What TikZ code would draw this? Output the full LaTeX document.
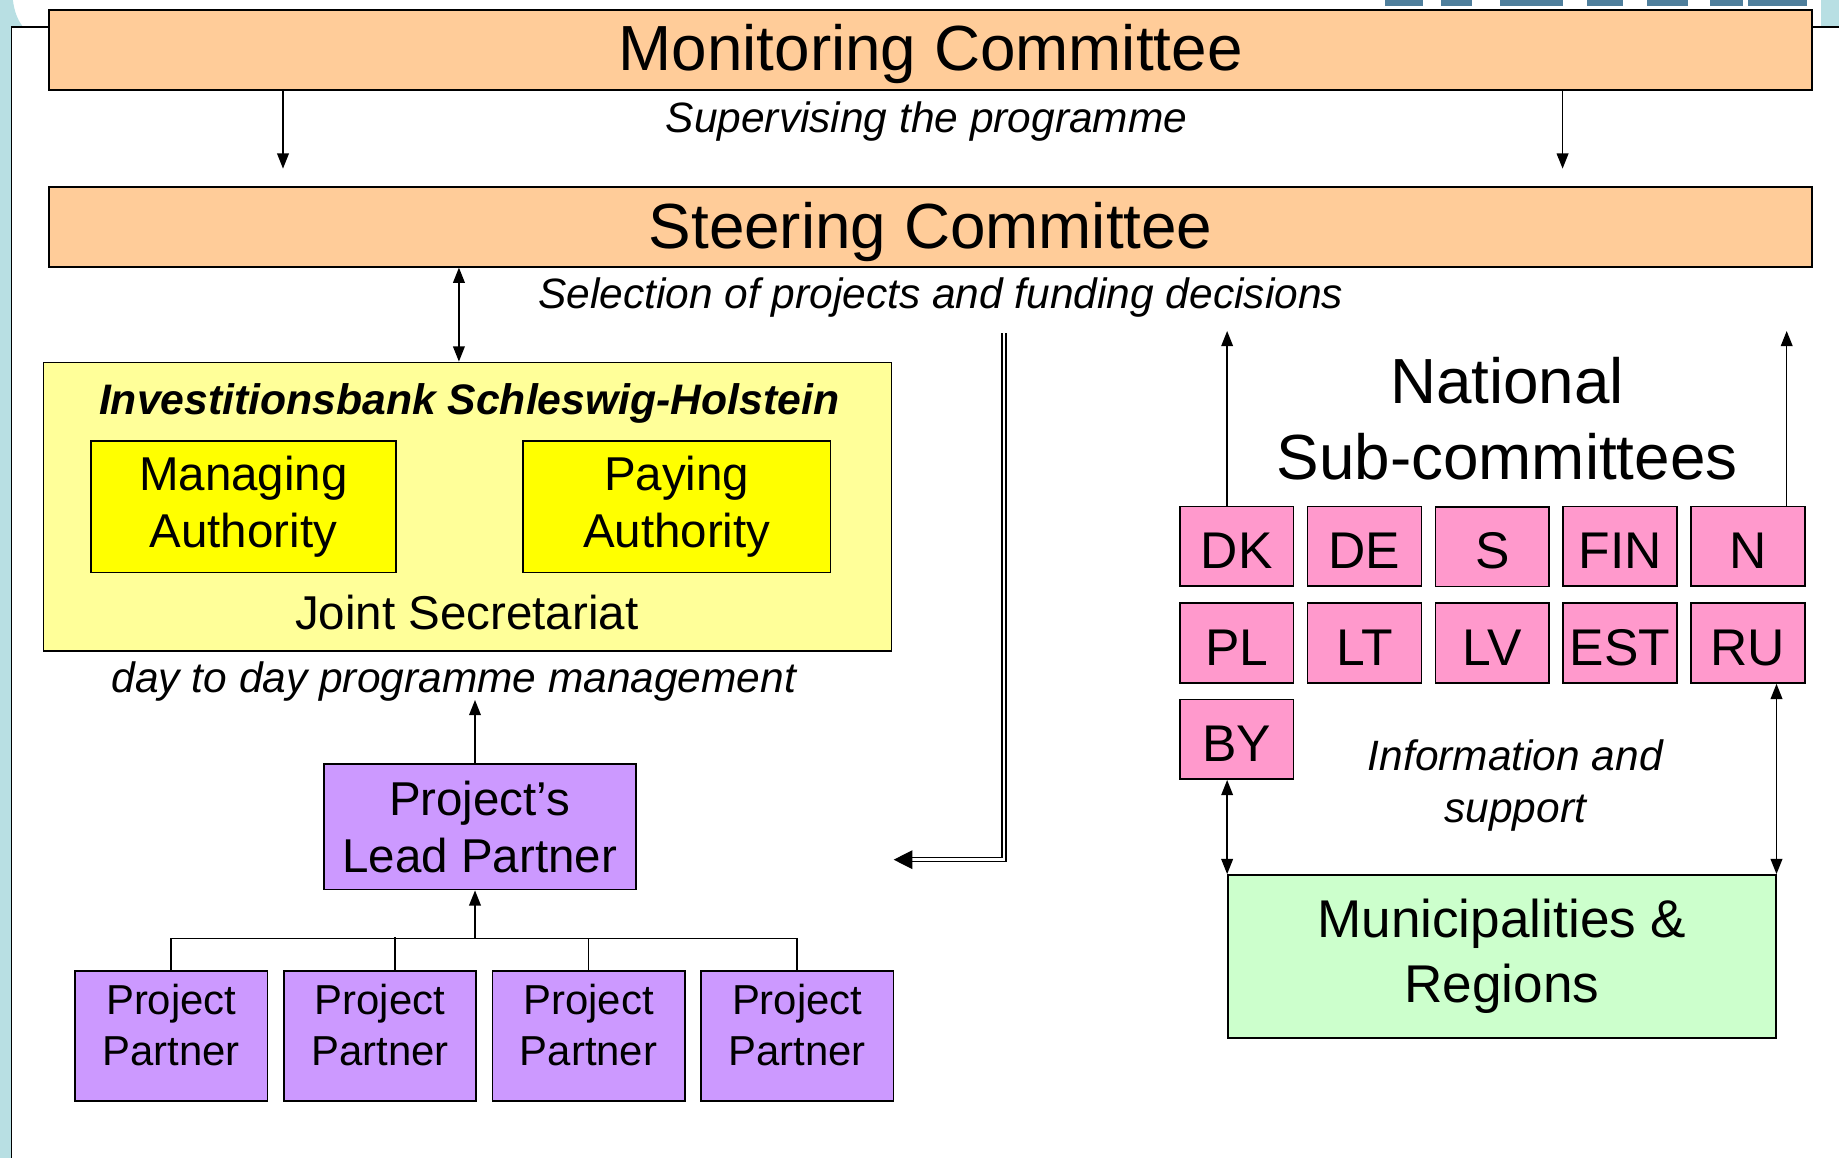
\documentclass[tikz,border=0pt]{standalone}
\usepackage{fontspec}
\setmainfont{Liberation Sans}
\usetikzlibrary{positioning,calc,matrix,arrows.meta}
\definecolor{peach}{HTML}{FFCC99}
\definecolor{lyellow}{HTML}{FFFF99}
\definecolor{yel}{HTML}{FFFF00}
\definecolor{lilac}{HTML}{CC99FF}
\definecolor{pinkc}{HTML}{FF99CC}
\definecolor{lgreen}{HTML}{CCFFCC}
\definecolor{slidebg}{HTML}{B8DFE3}
\definecolor{logoblue}{HTML}{4F7F9C}

\begin{document}
\begin{tikzpicture}[x=1pt,y=-1pt,
    box/.style={draw,line width=1.4pt,inner sep=0pt,align=center},
    cmte/.style={box,fill=peach,minimum width=1503pt,minimum height=68pt,text depth=3.5pt,font=\fontsize{54.4}{64}\selectfont},
    auth/.style={box,fill=yel,minimum width=260pt,minimum height=112pt,font=\fontsize{40.5}{49}\selectfont},
    ppbox/.style={box,fill=lilac,minimum width=164pt,minimum height=111pt},
    pptext/.style={inner sep=0pt,align=center,font=\fontsize{35.7}{44}\selectfont},
    ctry/.style={draw,line width=1.4pt,inner sep=0pt,fill=pinkc,minimum width=97pt,minimum height=68pt,text height=38pt,font=\fontsize{44}{50}\selectfont},
    note/.style={inner sep=0pt,align=center,font=\fontsize{36.2}{44}\selectfont\itshape},
    arr/.style={-{Triangle[length=13pt,width=10pt]},line width=1.3pt},
    biarr/.style={{Triangle[length=13pt,width=10pt]}-{Triangle[length=13pt,width=10pt]},line width=1.3pt},
    dblarr/.style={double,double distance=2.4pt,line width=1.1pt,-{Triangle[length=16pt,width=16pt]}}]

  \useasboundingbox (0,0) rectangle (1568,987);

  % slide background
  \fill[slidebg] (0,0) rectangle (10,987);
  \fill[slidebg] (0,0) -- (11,0) .. controls (12,9) and (15,17) .. (19,22) -- (0,22) -- cycle;
  \fill[slidebg] (1553,0) rectangle (1568,22);
  \foreach \a/\b in {1181/1213,1229/1255,1279/1333,1353/1384,1404/1439,1458/1486,1490/1541}
    \fill[logoblue] (\a,0) rectangle (\b,5);
  \draw[line width=1.2pt] (10,987) -- (10,23) -- (42,23);
  \draw[line width=1.2pt] (1545,23) -- (1568,23);

  % committees
  \node[cmte] (mc) at (793.5,42.5) {Monitoring Committee};
  \node[note] (sup) at (790,104) {Supervising the programme};
  \node[cmte] (sc) at (793.5,193.5) {Steering Committee};
  \node[note] (sel) at (802,254) {Selection of projects and funding decisions};

  \draw[arr] ($(mc.south west)+(200,0)$) -- ($(sc.north west)+(200,-15)$);
  \draw[arr] ($(mc.south west)+(1291,0)$) -- ($(sc.north west)+(1291,-15)$);

  % investitionsbank
  \node[box,fill=lyellow,minimum width=723pt,minimum height=246pt] (ib) at (398.5,432) {};
  \node[inner sep=0pt,font=\fontsize{36.4}{44}\selectfont\bfseries\itshape] (ibt) at (400,344) {Investitionsbank Schleswig-Holstein};
  \node[auth] (ma) at (207.5,432) {Managing\\Authority};
  \node[auth,minimum width=262pt] (pa) at (577,432) {Paying\\Authority};
  \node[inner sep=0pt,font=\fontsize{40.5}{49}\selectfont] (js) at (398,522) {Joint Secretariat};
  \node[note] (ddm) at (387,581) {day to day programme management};

  \coordinate (ibtop) at ($(ib.north west)+(355,0)$);
  \draw[biarr] (ibtop |- sc.south) -- (ibtop);

  % project partners
  \node[box,fill=lilac,minimum width=266pt,minimum height=107pt,font=\fontsize{40.5}{49}\selectfont] (lp) at (409,705) {Project’s\\Lead Partner};
  \node[ppbox] (pp1) at (146,883.5) {};
  \node[ppbox,right=12.5pt of pp1] (pp2) {};
  \node[ppbox,right=12.5pt of pp2] (pp3) {};
  \node[ppbox,right=12.5pt of pp3] (pp4) {};
  \foreach \n in {1,...,4}
    \node[pptext] (ppt\n) at ($(pp\n)+(0,-9.5)$) {Project\\Partner};

  \coordinate (jn) at (405,800);
  \draw[line width=1.3pt] (pp1.north) |- (pp4.north |- jn) -- (pp4.north);
  \draw[line width=1.3pt] ($(pp2.north)+(13,0)$) -- ++(0,-28);
  \draw[line width=1.3pt] (pp3.north) -- (pp3.north |- jn);
  \draw[arr] (jn) -- (jn |- lp.south);
  \draw[arr] (jn |- lp.north) -- ++(0,-54);

  \coordinate (dtop) at (856,284);
  \coordinate (dend) at (762,733);
  \draw[dblarr] (dtop) |- (dend);

  % national sub-committees
  \node[inner sep=0pt,align=center,font=\fontsize{54.4}{64}\selectfont] (nat) at (1285,357) {National\\Sub-committees};
  \matrix (ns) [matrix of nodes,nodes={ctry},row sep=12.6pt,column sep=10.6pt,inner sep=0pt,anchor=north west] at (1005,431)
  {DK&DE&S&FIN&N\\
   PL&LT&LV&EST&RU\\
   BY\\
  };

  \node[box,fill=lgreen,minimum width=467pt,minimum height=139pt,font=\fontsize{45.3}{55}\selectfont] (mu) at (1280.5,815.5) {Municipalities \&\\Regions};
  \node[note] (info) at (1292,670) {Information and\\support};

  \draw[arr] (ns-1-1.north -| mu.west) -- ++(0,-149);
  \draw[arr] ($(ns-1-5.north)+(33,0)$) -- ++(0,-149);
  \draw[biarr] (ns-3-1.south -| mu.west) -- (mu.north west);
  \draw[biarr] (ns-2-5.south -| mu.east) -- (mu.north east);
\end{tikzpicture}
\end{document}
